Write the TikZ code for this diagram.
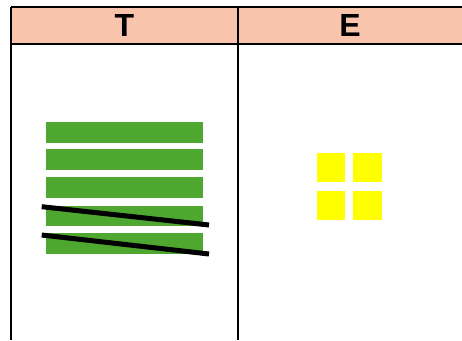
\documentclass[tikz,border=0pt]{standalone}
\usepackage{fontspec}
\setmainfont{Liberation Sans}
\definecolor{hdr}{HTML}{F8C5AC}
\definecolor{grn}{HTML}{4EA72E}
\definecolor{ylw}{HTML}{FFFF00}
\tikzset{
  bar/.style={fill=grn, draw=none},
  sq/.style={fill=ylw, draw=none},
  strike/.style={line width=5pt, black},
  grid/.style={line width=2pt, black},
  htext/.style={font=\bfseries\fontsize{32}{32}\selectfont, inner sep=0pt}
}
\begin{document}
\begin{tikzpicture}[x=1pt,y=-1pt]
\useasboundingbox (0,0) rectangle (462,340);
\fill[white] (0,0) rectangle (462,340);
% header
\fill[hdr] (11,7) rectangle (462,44);
\draw[grid] (11,7) -- (462,7);
\draw[grid] (11,44) -- (462,44);
\draw[grid] (11,7) -- (11,340);
\draw[grid] (238,7) -- (238,340);
\node[htext] (hT) at (124.5,25.5) {T};
\node[htext] (hE) at (350,25.5) {E};
% green bars
\foreach \y [count=\i] in {121.7,149.3,176.9,205.5,233.1} {
  \fill[bar] (46,\y) rectangle (203,\y+20.8);
}
% strike lines
\draw[strike] (41.7,206.7) -- (209,225);
\draw[strike] (41.7,235) -- (209,254);
% yellow squares
\fill[sq] (316.7,152.7) rectangle (345.3,181.7);
\fill[sq] (353.3,152.7) rectangle (381.7,181.7);
\fill[sq] (316.7,191) rectangle (345.3,220);
\fill[sq] (353.3,191) rectangle (381.7,220);
\end{tikzpicture}
\end{document}
